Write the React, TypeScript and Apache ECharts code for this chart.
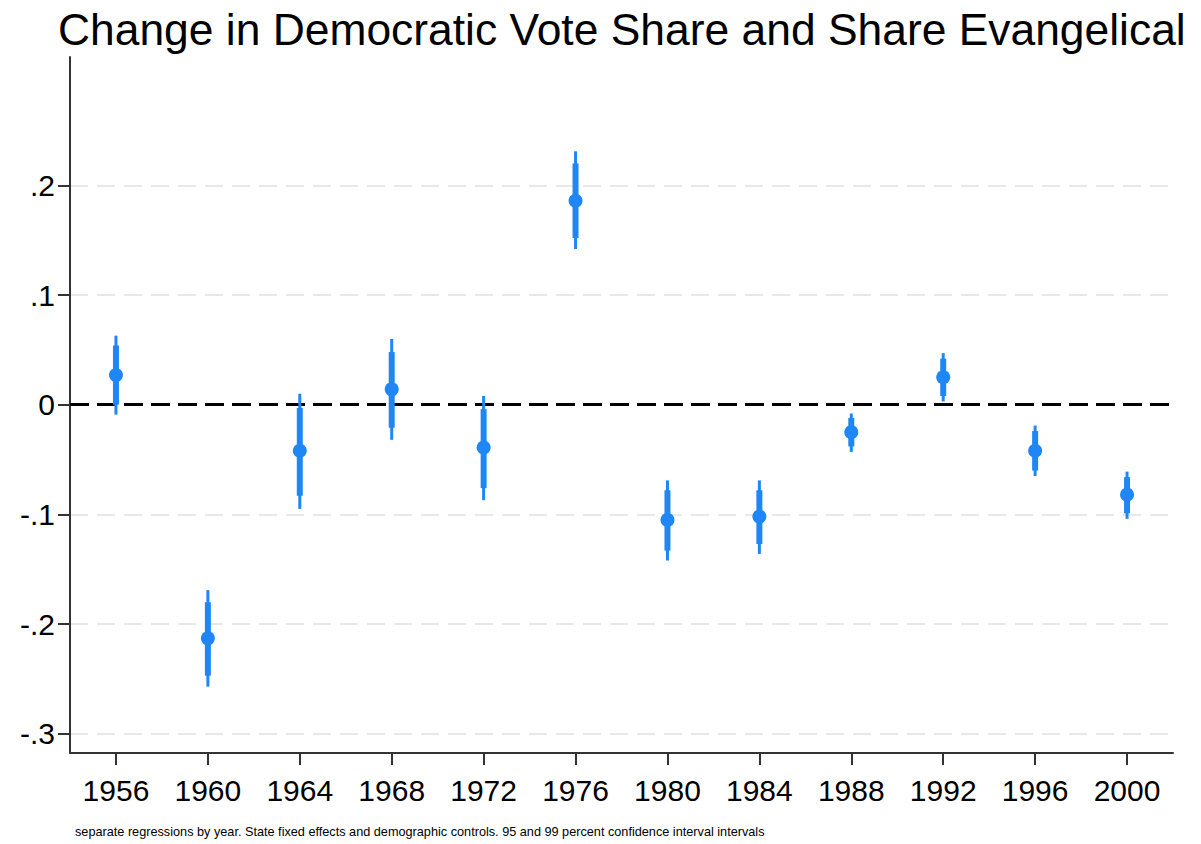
import React, { useEffect, useRef } from "react";
import * as echarts from "echarts";

// Election years on the horizontal axis
const years: string[] = ["1956", "1960", "1964", "1968", "1972", "1976", "1980", "1984", "1988", "1992", "1996", "2000"];

// Point estimates (coefficient on share evangelical)
const estimates: number[] = [0.027, -0.213, -0.042, 0.014, -0.039, 0.186, -0.105, -0.102, -0.025, 0.025, -0.042, -0.082];

// 95 percent confidence interval bounds
const ci95Low: number[] = [0.0, -0.247, -0.083, -0.021, -0.076, 0.152, -0.133, -0.127, -0.038, 0.008, -0.06, -0.099];
const ci95High: number[] = [0.054, -0.18, -0.003, 0.048, -0.004, 0.22, -0.078, -0.078, -0.012, 0.042, -0.024, -0.066];

// 99 percent confidence interval bounds
const ci99Low: number[] = [-0.009, -0.257, -0.095, -0.032, -0.087, 0.142, -0.142, -0.136, -0.043, 0.003, -0.065, -0.104];
const ci99High: number[] = [0.063, -0.169, 0.01, 0.06, 0.008, 0.231, -0.069, -0.069, -0.008, 0.047, -0.019, -0.061];

// Y axis tick positions
const yTicks: number[] = [-0.3, -0.2, -0.1, 0, 0.1, 0.2];

const TITLE = "Change in Democratic Vote Share and Share Evangelical";
const NOTE = "separate regressions by year. State fixed effects and demographic controls. 95 and 99 percent confidence interval intervals";

const BLUE = "#1e87f5";
const AXIS = "#333333";
const FONT = "'Liberation Sans', Arial, sans-serif";

const fmtTick = (v: number): string => {
  if (Math.abs(v) < 1e-9) return "0";
  const s = v.toFixed(1);
  return s.replace("0.", ".");
};

export default function App() {
  const ref = useRef<HTMLDivElement | null>(null);

  useEffect(() => {
    if (!ref.current) return;
    const chart = echarts.init(ref.current, undefined, { renderer: "svg" });

    const intervalData = years.map((y, i) => [i, ci99Low[i], ci99High[i], ci95Low[i], ci95High[i]]);

    chart.setOption({
      animation: false,
      backgroundColor: "#ffffff",
      title: [
        {
          text: TITLE,
          left: 53,
          top: 2,
          textStyle: { fontFamily: FONT, fontSize: 44.4, fontWeight: "normal", color: "#000" },
        },
        {
          text: NOTE,
          left: 70,
          top: 820,
          textStyle: { fontFamily: FONT, fontSize: 12.7, fontWeight: "normal", color: "#000" },
        },
      ],
      grid: { left: 70, right: 28, top: 57, bottom: 91, containLabel: false },
      xAxis: {
        type: "category",
        data: years,
        boundaryGap: true,
        axisLine: { show: true, onZero: false, lineStyle: { color: AXIS, width: 2 } },
        axisTick: { show: true, inside: false, alignWithLabel: true, length: 12, lineStyle: { color: AXIS, width: 2 } },
        axisLabel: { fontFamily: FONT, fontSize: 30, color: "#000", margin: 22 },
        splitLine: { show: false },
      },
      yAxis: {
        type: "value",
        min: -0.3175,
        max: 0.317,
        axisLine: { show: true, onZero: false, lineStyle: { color: AXIS, width: 2 } },
        axisTick: { show: true, inside: false, length: 12, lineStyle: { color: AXIS, width: 2 }, customValues: yTicks },
        axisLabel: { fontFamily: FONT, fontSize: 30, color: "#000", margin: 15, formatter: fmtTick, customValues: yTicks },
        splitLine: { show: true, lineStyle: { color: "#e8e8e8", width: 2, type: [18, 9] } },
      },
      series: [
        {
          type: "custom",
          name: "intervals",
          data: intervalData,
          encode: { x: 0, y: [1, 2, 3, 4] },
          renderItem: (params: any, api: any) => {
            const x = api.value(0);
            const p99a = api.coord([x, api.value(1)]);
            const p99b = api.coord([x, api.value(2)]);
            const p95a = api.coord([x, api.value(3)]);
            const p95b = api.coord([x, api.value(4)]);
            return {
              type: "group",
              children: [
                {
                  type: "line",
                  shape: { x1: p99a[0], y1: p99a[1], x2: p99b[0], y2: p99b[1] },
                  style: { stroke: BLUE, lineWidth: 3 },
                },
                {
                  type: "line",
                  shape: { x1: p95a[0], y1: p95a[1], x2: p95b[0], y2: p95b[1] },
                  style: { stroke: BLUE, lineWidth: 6 },
                },
              ],
            };
          },
          z: 3,
        },
        {
          type: "scatter",
          name: "estimate",
          data: estimates.map((v, i) => [i, v]),
          symbol: "circle",
          symbolSize: 14,
          itemStyle: { color: BLUE, opacity: 1 },
          z: 4,
          markLine: {
            silent: true,
            symbol: "none",
            label: { show: false },
            lineStyle: { color: "#000", width: 3, type: [19, 8] },
            data: [{ yAxis: 0 }],
            z: 2,
          },
        },
      ],
    });

    return () => {
      chart.dispose();
    };
  }, []);

  return (
    <div
      ref={ref}
      style={{ position: "fixed", left: 0, top: 0, width: 1201, height: 844, background: "#fff" }}
    />
  );
}
